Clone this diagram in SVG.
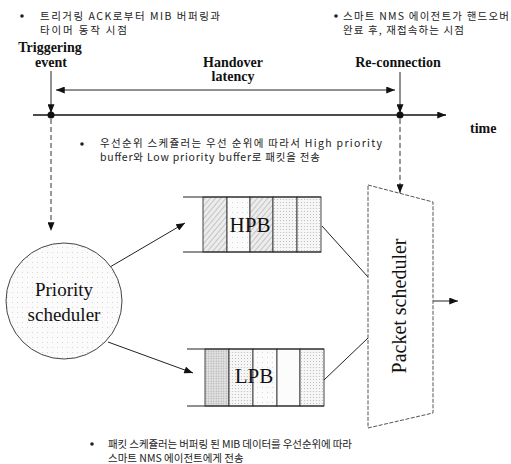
<svg xmlns="http://www.w3.org/2000/svg" width="511" height="464" viewBox="0 0 511 464">
<style>
.ko{font-family:"Noto Sans CJK KR","Noto Sans",sans-serif;font-size:10.5px;fill:#222}
.lb{font-family:"Liberation Serif",serif;font-weight:bold;font-size:14px;fill:#111}
.tx{font-family:"Liberation Serif",serif;fill:#111}
.ln{stroke:#222;stroke-width:1;fill:none}
.dash{stroke:#333;stroke-width:1;stroke-dasharray:5 3;fill:none}
.cell{stroke:#333;stroke-width:0.9}
.buf{stroke:#222;stroke-width:1.1;fill:none}
</style>
<defs>
<marker id="ah" viewBox="0 0 10 8" refX="10" refY="4" markerWidth="10" markerHeight="7" markerUnits="userSpaceOnUse" orient="auto-start-reverse">
<path d="M0,0 L10,4 L0,8 z" fill="#111"/>
</marker>
<pattern id="hatch" width="4" height="4" patternUnits="userSpaceOnUse" patternTransform="rotate(40)">
<rect width="4" height="4" fill="#ececec"/><line x1="0" y1="0" x2="0" y2="4" stroke="#aaa" stroke-width="1.2"/>
</pattern>
<pattern id="dots" width="3" height="3" patternUnits="userSpaceOnUse">
<rect width="3" height="3" fill="#f6f6f6"/><circle cx="1.5" cy="1.5" r="0.6" fill="#bbb"/>
</pattern>
<pattern id="dotsDark" width="2.5" height="2.5" patternUnits="userSpaceOnUse">
<rect width="2.5" height="2.5" fill="#e4e4e4"/><circle cx="1.2" cy="1.2" r="0.7" fill="#aaa"/>
</pattern>
<pattern id="dotsLight" width="5" height="5" patternUnits="userSpaceOnUse">
<rect width="5" height="5" fill="#fbfbfb"/><circle cx="2.5" cy="2.5" r="0.5" fill="#ccc"/>
</pattern>
</defs>

<g id="notes">
<circle cx="22" cy="16" r="1.8" fill="#222"/>
<text class="ko"><tspan x="40" y="20" textLength="180" lengthAdjust="spacing">트리거링 ACK로부터 MIB 버퍼링과</tspan><tspan x="40" y="34" textLength="87" lengthAdjust="spacing">타이머 동작 시점</tspan></text>
<circle cx="336" cy="16" r="1.8" fill="#222"/>
<text class="ko"><tspan x="343" y="20" textLength="166" lengthAdjust="spacing">스마트 NMS 에이전트가 핸드오버</tspan><tspan x="343" y="34" textLength="121" lengthAdjust="spacing">완료 후, 재접속하는 시점</tspan></text>
<circle cx="82" cy="144" r="1.8" fill="#222"/>
<text class="ko"><tspan x="100" y="147" textLength="282" lengthAdjust="spacing">우선순위 스케쥴러는 우선 순위에 따라서 High priority</tspan><tspan x="100" y="161" textLength="220" lengthAdjust="spacing">buffer와 Low priority buffer로 패킷을 전송</tspan></text>
<circle cx="92" cy="444" r="1.8" fill="#222"/>
<text class="ko"><tspan x="108" y="448" textLength="244" lengthAdjust="spacing">패킷 스케쥴러는 버퍼링 된 MIB 데이터를 우선순위에 따라</tspan><tspan x="108" y="462">스마트 NMS 에이전트에게 전송</tspan></text>
</g>

<g id="timeline-labels">
<text class="lb" x="50" y="52" text-anchor="middle">Triggering</text>
<text class="lb" x="51" y="67" text-anchor="middle">event</text>
<text class="lb" x="233" y="67" text-anchor="middle">Handover</text>
<text class="lb" x="233" y="81" text-anchor="middle">latency</text>
<text class="lb" x="398" y="67" text-anchor="middle">Re-connection</text>
<text class="lb" x="470" y="133">time</text>
</g>

<g id="connectors">
<line class="ln" x1="56" y1="90" x2="395" y2="90" marker-start="url(#ah)" marker-end="url(#ah)"/>
<line x1="33" y1="115" x2="446" y2="115" stroke="#111" stroke-width="1.6" marker-end="url(#ah)"/>
<line class="ln" x1="51" y1="71" x2="51" y2="113" marker-end="url(#ah)"/>
<line class="ln" x1="400" y1="72" x2="400" y2="113" marker-end="url(#ah)"/>
<line class="dash" x1="51" y1="119" x2="51" y2="231" marker-end="url(#ah)"/>
<line class="dash" x1="400" y1="119" x2="400" y2="193" marker-end="url(#ah)"/>
<line class="ln" x1="110" y1="267" x2="185" y2="223" marker-end="url(#ah)"/>
<line class="ln" x1="108" y1="342" x2="193" y2="373" marker-end="url(#ah)"/>
<line class="ln" x1="322" y1="226" x2="368" y2="277"/>
<line class="ln" x1="324" y1="380" x2="368" y2="338"/>
<line class="ln" x1="433" y1="301" x2="458" y2="301" marker-end="url(#ah)"/>
<circle cx="51" cy="115" r="3.5" fill="#111"/>
<circle cx="400" cy="115" r="3.5" fill="#111"/>
</g>

<g id="priority-scheduler">
<circle cx="64" cy="301" r="58" fill="url(#dotsLight)" stroke="#444" stroke-width="1"/>
<text class="tx" x="64" y="296" font-size="19" text-anchor="middle">Priority</text>
<text class="tx" x="64" y="321" font-size="19" text-anchor="middle">scheduler</text>
</g>

<g id="hpb">
<rect class="cell" x="203" y="197" width="24" height="55" fill="url(#hatch)"/>
<rect class="cell" x="227" y="197" width="23" height="55" fill="url(#dotsLight)"/>
<rect class="cell" x="250" y="197" width="23" height="55" fill="url(#hatch)"/>
<rect class="cell" x="273" y="197" width="24" height="55" fill="url(#dots)"/>
<rect class="cell" x="297" y="197" width="24" height="55" fill="url(#dots)"/>
<line class="buf" x1="183" y1="197" x2="321" y2="197"/>
<line class="buf" x1="183" y1="252" x2="321" y2="252"/>
<text class="tx" x="250" y="232" font-size="21" text-anchor="middle">HPB</text>
</g>

<g id="lpb">
<rect class="cell" x="205" y="349" width="24" height="57" fill="url(#dotsDark)"/>
<rect class="cell" x="229" y="349" width="24" height="57" fill="url(#dots)"/>
<rect class="cell" x="253" y="349" width="24" height="57" fill="url(#dotsLight)"/>
<rect class="cell" x="277" y="349" width="23" height="57" fill="#fcfcfc"/>
<rect class="cell" x="300" y="349" width="24" height="57" fill="url(#dots)"/>
<line class="buf" x1="187" y1="349" x2="324" y2="349"/>
<line class="buf" x1="187" y1="406" x2="324" y2="406"/>
<text class="tx" x="254" y="383" font-size="21" text-anchor="middle">LPB</text>
</g>

<g id="packet-scheduler">
<polygon points="368,185 433,202 433,413 368,428" fill="none" stroke="#555" stroke-width="1" stroke-dasharray="4 1.5"/>
<text class="tx" font-size="20" text-anchor="middle" transform="translate(406,306) rotate(-90)">Packet scheduler</text>
</g>
</svg>
